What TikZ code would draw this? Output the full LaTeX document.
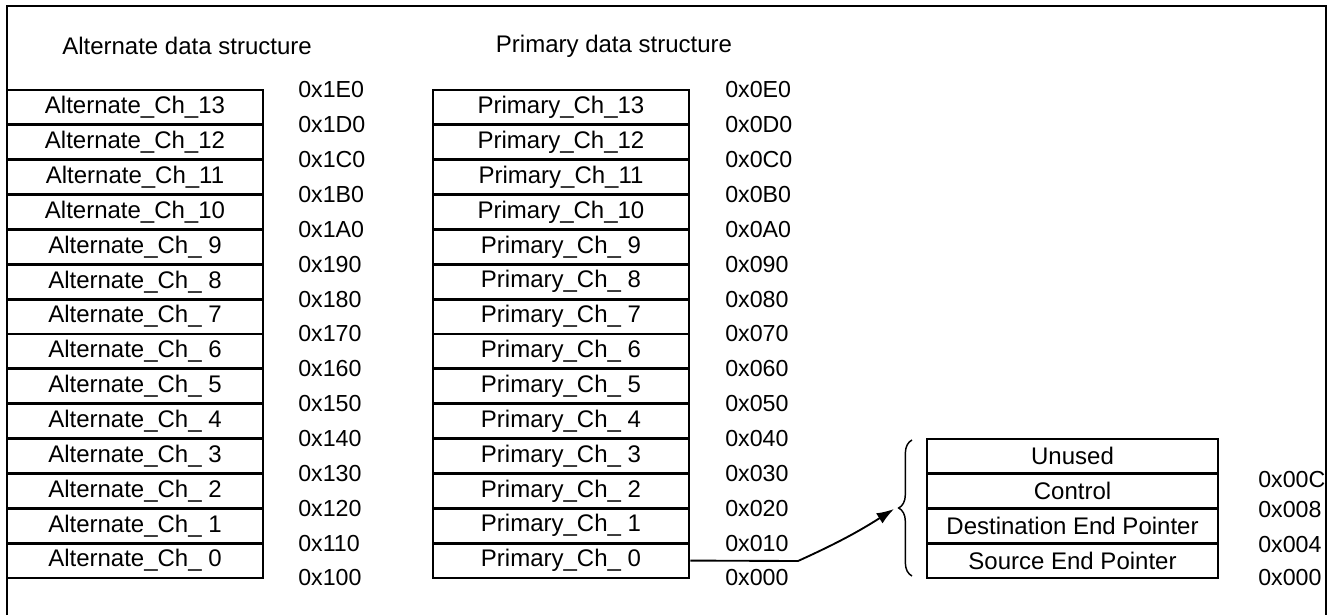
\documentclass[tikz,border=0pt]{standalone}
\usepackage{fontspec}
\setmainfont{Liberation Sans}
\usetikzlibrary{arrows.meta,decorations.pathreplacing}
\begin{document}
\begin{tikzpicture}[x=0.75pt,y=-0.75pt,
  txt/.style={font=\fontsize{18}{21}\selectfont,inner sep=0pt},
  cell/.style={txt,draw,line width=2.2pt,minimum width=192pt,minimum height=26.14pt},
  rcell/.style={txt,draw,line width=2.2pt,minimum width=218.25pt,minimum height=26.06pt},
  addr/.style={font=\fontsize{17.4}{21}\selectfont,inner sep=0pt,anchor=west},
  frame/.style={line width=1.3pt},
  conn/.style={line width=1.4pt,-{Latex[length=13pt,width=9pt]}},
  brc/.style={line width=1.1pt,decorate,decoration={brace,amplitude=10pt}}]
\useasboundingbox[fill=white] (0,0) rectangle (1332,615);
\draw[frame] (7,615) -- (7,6) -- (1326,6) -- (1326,615);
\node[txt] (talt) at (187,46) {Alternate data structure};
\node[txt] (tpri) at (614,46) {Primary data structure};
\foreach \i in {0,...,13}{
  \node[cell] (a\i) at (135,{578-34.857*(\i+0.5)}) {Alternate\_Ch\_\ifnum\i<10\ \fi\i};
  \node[cell] (p\i) at (561,{578-34.857*(\i+0.5)}) {Primary\_Ch\_\ifnum\i<10\ \fi\i};
}
\foreach \k/\h in {0/0,1/1,2/2,3/3,4/4,5/5,6/6,7/7,8/8,9/9,10/A,11/B,12/C,13/D,14/E}{
  \node[addr] (la\k) at (298,{578-34.857*\k}) {0x1\h0};
  \node[addr] (lp\k) at (725,{578-34.857*\k}) {0x0\h0};
}
\foreach \i/\t in {0/Source End Pointer,1/Destination End Pointer,2/Control,3/Unused}{
  \node[rcell] (r\i) at (1072.5,{578-34.75*(\i+0.5)}) {\t};
}
\node[addr] (lr0) at (1258,578) {0x000};
\node[addr] (lr1) at (1258,545) {0x004};
\node[addr] (lr2) at (1258,510) {0x008};
\node[addr] (lr3) at (1258,480) {0x00C};
\draw[brc] (912,576) -- (912,440);
\coordinate (bend) at (798,561);
\coordinate (btip) at (894,509);
\draw[conn] (p0.east) -- (bend) to[bend right=4] (btip);
\end{tikzpicture}
\end{document}
